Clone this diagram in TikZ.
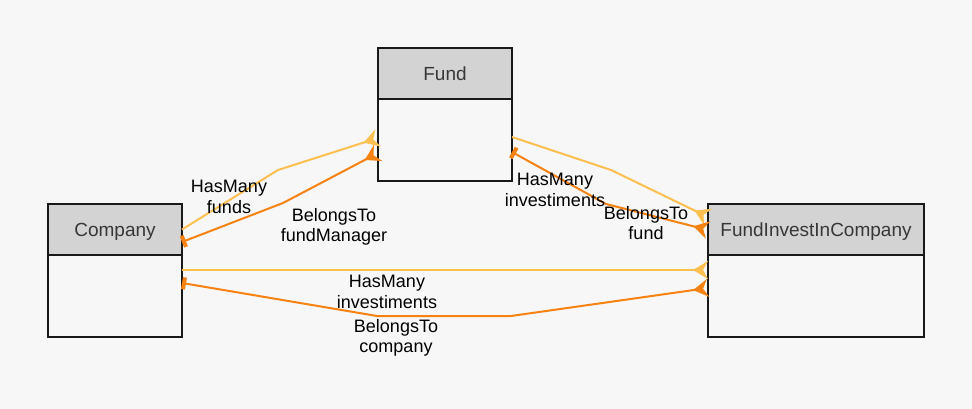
\documentclass[tikz,border=0pt]{standalone}
\usepackage{fontspec}
\setmainfont{Liberation Sans}
\usetikzlibrary{arrows.meta}
\definecolor{bgc}{RGB}{247,247,247}
\definecolor{hdrc}{RGB}{211,211,211}
\definecolor{lighto}{RGB}{253,192,80}
\definecolor{darko}{RGB}{246,130,18}
\definecolor{titlec}{RGB}{55,55,55}
\tikzset{
  hdr/.style={draw=black!90, line width=1.2pt, fill=hdrc, inner sep=0pt, outer sep=0pt,
    text=titlec, font=\fontsize{19}{22}\selectfont, minimum height=51pt,
    text height=13.6pt, text depth=0pt},
  bodybox/.style={draw=black!90, line width=1.2pt, fill=bgc, inner sep=0pt, outer sep=0pt,
    minimum height=82pt},
  lbl/.style={align=center, font=\fontsize{18}{20.5}\selectfont, text=black, inner sep=0pt},
  crow/.tip={Stealth[reversed, length=15pt, width=18pt, inset=5pt]},
  onebar/.tip={Rectangle[length=4pt, width=12pt]},
  hasmany/.style={draw=lighto, line width=2pt, -crow},
  belongs/.style={draw=darko, line width=2pt},
}
\begin{document}
\begin{tikzpicture}[x=1pt,y=-1pt]
\fill[bgc] (0,0) rectangle (972,409);
\useasboundingbox (0,0) rectangle (972,409);

% Fund
\node[hdr, minimum width=134pt, anchor=north west] (fundH) at (378,48) {Fund};
\node[bodybox, minimum width=134pt, anchor=north] (fundB) at (fundH.south) {};
% Company
\node[hdr, minimum width=134pt, anchor=north west] (compH) at (48,204) {Company};
\node[bodybox, minimum width=134pt, anchor=north] (compB) at (compH.south) {};
% FundInvestInCompany
\node[hdr, minimum width=216pt, anchor=north west] (ficH) at (708,204) {FundInvestInCompany};
\node[bodybox, minimum width=216pt, anchor=north] (ficB) at (ficH.south) {};

% Company -> Fund
\draw[hasmany] (compH.east) -- (278,170) -- ([yshift=2pt]fundB.west);
\draw[belongs, onebar-crow] ([yshift=-12.5pt]compH.east) -- (283,203) -- ([yshift=-13pt]fundB.west);
% Fund -> FIC
\draw[hasmany] ([yshift=3pt]fundB.east) -- (611,170) -- ([yshift=12.5pt]ficH.west);
\draw[belongs, onebar-crow] ([yshift=-12pt]fundB.east) -- (606,204) -- ([yshift=-0.5pt]ficH.west);
% Company -> FIC
\draw[hasmany] ([yshift=26pt]compB.east) -- ([yshift=26pt]ficB.west);
\draw[belongs, crow-onebar] ([yshift=8pt]ficB.west) -- (511,316) -- (377,316) -- ([yshift=13pt]compB.east);

% labels
\node[lbl] (l1) at (229,197) {HasMany\\funds};
\node[lbl] (l2) at (334,227) {BelongsTo\\fundManager};
\node[lbl] (l3) at (555,190) {HasMany\\investiments};
\node[lbl] (l4) at (646,223) {BelongsTo\\fund};
\node[lbl] (l5) at (387,292) {HasMany\\investiments};
\node[lbl] (l6) at (396,338) {BelongsTo\\company};
\end{tikzpicture}
\end{document}
